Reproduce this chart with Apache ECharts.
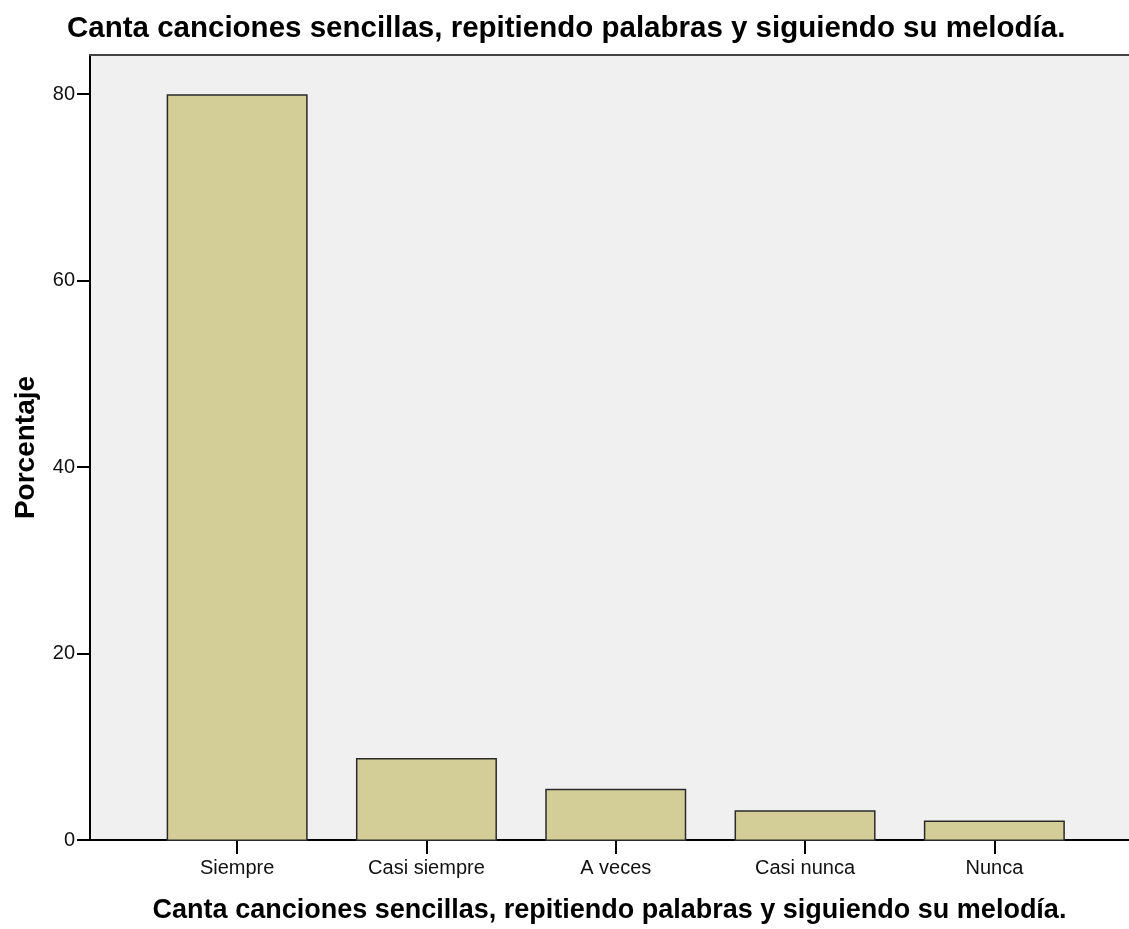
<!DOCTYPE html>
<html>
<head>
<meta charset="utf-8">
<script src="https://cdn.jsdelivr.net/npm/echarts@6/dist/echarts.min.js"></script>
<style>
  html, body { margin: 0; padding: 0; background: #fff; }
  #chart { width: 1129px; height: 929px; }
</style>
</head>
<body>
<div id="chart"></div>
<script>
  // categorías y porcentajes
  const categories = ['Siempre', 'Casi siempre', 'A veces', 'Casi nunca', 'Nunca'];
  const percentages = [80.0, 8.9, 5.6, 3.3, 2.2];
  const yTicks = [0, 20, 40, 60, 80];

  const titleText = 'Canta canciones sencillas, repitiendo palabras y siguiendo su melodía.';
  const FONT = '"Liberation Sans", Arial, sans-serif';
  const Y_MAX = 84.2;

  const chart = echarts.init(document.getElementById('chart'));

  const option = {
    animation: false,
    textStyle: { fontFamily: FONT },
    title: {
      text: titleText,
      left: 62,
      top: 9,
      textStyle: { fontFamily: FONT, fontSize: 29.5, fontWeight: 'bold', color: '#000' }
    },
    grid: [
      // fondo del área de trazado + eje y
      { left: 90, right: 0, top: 55, bottom: 88, show: true, backgroundColor: '#f0f0f0', borderWidth: 0 },
      // barras
      { left: 142.5, right: 40, top: 55, bottom: 88 }
    ],
    xAxis: [
      {
        gridIndex: 0,
        type: 'value',
        position: 'bottom',
        axisLine: { show: true, lineStyle: { color: '#000', width: 2 } },
        axisTick: { show: false },
        axisLabel: { show: false },
        splitLine: { show: false },
        name: titleText,
        nameLocation: 'middle',
        nameGap: 57,
        nameTextStyle: { fontFamily: FONT, fontSize: 27, fontWeight: 'bold', color: '#000' }
      },
      {
        gridIndex: 0,
        type: 'value',
        position: 'top',
        axisLine: { show: true, lineStyle: { color: '#444', width: 2 } },
        axisTick: { show: false },
        axisLabel: { show: false },
        splitLine: { show: false }
      },
      {
        gridIndex: 1,
        type: 'category',
        data: categories,
        axisLine: { show: false },
        axisTick: { show: true, alignWithLabel: true, length: 13, lineStyle: { color: '#000', width: 2 } },
        axisLabel: { margin: 17, fontSize: 20, color: '#111', fontFamily: FONT }
      }
    ],
    yAxis: [
      {
        gridIndex: 0,
        type: 'value',
        min: 0,
        max: Y_MAX,
        axisLine: { show: true, lineStyle: { color: '#000', width: 2 } },
        axisTick: { show: true, length: 13, customValues: yTicks, lineStyle: { color: '#000', width: 2 } },
        axisLabel: { margin: 15, fontSize: 20, color: '#111', fontFamily: FONT, customValues: yTicks },
        splitLine: { show: false },
        name: 'Porcentaje',
        nameLocation: 'middle',
        nameGap: 50,
        nameTextStyle: { fontFamily: FONT, fontSize: 28, fontWeight: 'bold', color: '#000' }
      },
      {
        gridIndex: 1,
        type: 'value',
        min: 0,
        max: Y_MAX,
        show: false
      }
    ],
    series: [
      {
        type: 'bar',
        xAxisIndex: 2,
        yAxisIndex: 1,
        data: percentages,
        barWidth: 141,
        itemStyle: { color: '#d3ce97', borderColor: '#2a2a2a', borderWidth: 1.5 }
      }
    ]
  };

  chart.setOption(option);
  window.addEventListener('resize', chart.resize);
</script>
</body>
</html>
